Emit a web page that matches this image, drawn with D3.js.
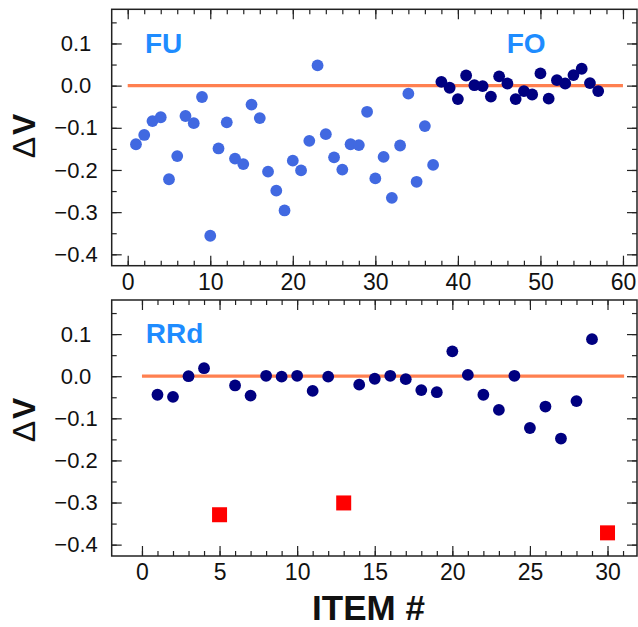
<!DOCTYPE html>
<html>
<head>
<meta charset="utf-8">
<script src="https://cdn.jsdelivr.net/npm/d3@7"></script>
<style>
  body { margin: 0; background: #fff; }
  svg { display: block; font-family: "Liberation Sans", Arial, sans-serif; }
</style>
</head>
<body>
<svg id="chart"></svg>
<script>
// FU / FO panel (top), item numbers and delta V
const fuItems = [1,2,3,4,5,6,7,8,9,10,11,12,13,14,15,16,17,18,19,20,21,22,23,24,25,26,27,28,29,30,31,32,33,34,35,36,37];
const fuValues = [-0.139,-0.117,-0.084,-0.075,-0.222,-0.167,-0.072,-0.089,-0.027,-0.356,-0.149,-0.087,-0.173,-0.186,-0.045,-0.077,-0.204,-0.249,-0.296,-0.178,-0.201,-0.131,0.048,-0.115,-0.170,-0.199,-0.139,-0.141,-0.062,-0.220,-0.169,-0.266,-0.142,-0.019,-0.228,-0.096,-0.188];
const foItems = [38,39,40,41,42,43,44,45,46,47,48,49,50,51,52,53,54,55,56,57];
const foValues = [0.009,-0.005,-0.032,0.024,0.001,-0.001,-0.026,0.022,0.005,-0.032,-0.013,-0.021,0.029,-0.031,0.013,0.005,0.025,0.040,0.006,-0.013];

// RRd panel (bottom)
const rrdItems = [1,2,3,4,6,7,8,9,10,11,12,14,15,16,17,18,19,20,21,22,23,24,25,26,27,28,29];
const rrdValues = [-0.044,-0.049,0.000,0.019,-0.022,-0.046,0.001,-0.001,0.001,-0.035,-0.001,-0.020,-0.006,0.001,-0.007,-0.033,-0.038,0.059,0.003,-0.044,-0.080,0.001,-0.123,-0.072,-0.148,-0.059,0.088];
const rrdSquareItems = [5,13,30];
const rrdSquareValues = [-0.329,-0.301,-0.372];

const yTicks = [0.1,0.0,-0.1,-0.2,-0.3,-0.4];
const topXTicks = [0,10,20,30,40,50,60];
const bottomXTicks = [0,5,10,15,20,25,30];

const width = 638, height = 627;
const left = 111.7, right = 637;

const svg = d3.select("#chart")
  .attr("width", width)
  .attr("height", height)
  .attr("viewBox", [0, 0, width, height]);

function range(a, b, step) {
  const out = [];
  for (let v = a; v <= b + 1e-9; v += step) out.push(+v.toFixed(4));
  return out;
}

function drawPanel(opt) {
  const x = d3.scaleLinear().domain(opt.xDomain).range([left, right]);
  const y = d3.scaleLinear().domain([-0.427, 0.181]).range([opt.bottom, opt.top]);
  const g = svg.append("g");

  // minor + major ticks on all four sides, pointing inward
  const sides = [
    [d3.axisBottom, opt.bottom, x, true],
    [d3.axisTop, opt.top, x, true],
    [d3.axisLeft, left, y, false],
    [d3.axisRight, right, y, false]
  ];
  sides.forEach(([axisFn, pos, sc, horiz]) => {
    const major = horiz ? opt.xMajor : yTicks;
    const minor = horiz ? opt.xMinor : range(-0.4, 0.15, 0.05);
    const tr = horiz ? `translate(0,${pos})` : `translate(${pos},0)`;
    [[minor, 5], [major, 10]].forEach(([vals, len]) => {
      const a = g.append("g")
        .attr("transform", tr)
        .call(axisFn(sc).tickValues(vals).tickSize(-len).tickFormat(""));
      a.select(".domain").remove();
      a.selectAll("line").attr("stroke", "#222").attr("stroke-width", 1.2);
    });
  });

  // tick labels
  const xl = g.append("g")
    .attr("transform", `translate(0,${opt.bottom})`)
    .call(d3.axisBottom(x).tickValues(opt.xMajor).tickSize(0).tickPadding(8).tickFormat(d3.format("d")));
  xl.select(".domain").remove();
  xl.selectAll("text").attr("font-size", 23).attr("fill", "#111").attr("font-family", null);

  const yl = g.append("g")
    .attr("transform", `translate(${left},0)`)
    .call(d3.axisLeft(y).tickValues(yTicks).tickSize(0).tickFormat(d3.format(".1f")));
  yl.select(".domain").remove();
  yl.selectAll("text")
    .attr("font-size", 22).attr("fill", "#111").attr("font-family", null)
    .attr("text-anchor", "middle").attr("x", 76 - left);

  // frame
  g.append("rect")
    .attr("x", left).attr("y", opt.top)
    .attr("width", right - left).attr("height", opt.bottom - opt.top)
    .attr("fill", "none").attr("stroke", "#222").attr("stroke-width", 1.5);

  // zero line
  g.append("line")
    .attr("x1", x(0)).attr("x2", x(opt.lineEnd))
    .attr("y1", y(0)).attr("y2", y(0))
    .attr("stroke", "#ff8050").attr("stroke-width", 3.2);

  // y title: thin delta, bold V
  const t = g.append("text")
    .attr("transform", `translate(35,${opt.titleY}) rotate(-90)`)
    .attr("text-anchor", "middle")
    .attr("font-size", 32)
    .attr("fill", "#111");
  t.append("tspan").attr("font-weight", "normal").text("Δ");
  t.append("tspan").attr("font-weight", "bold").attr("dx", 2).text("V");

  return { g, x, y };
}

// top panel
const topPanel = drawPanel({
  top: 9.3, bottom: 265.7,
  xDomain: [-1.94, 61.7],
  xMajor: topXTicks,
  xMinor: range(0, 60, 2),
  lineEnd: 60,
  titleY: 136
});

topPanel.g.selectAll(".fu")
  .data(fuItems)
  .join("circle")
  .attr("cx", d => topPanel.x(d))
  .attr("cy", (d, i) => topPanel.y(fuValues[i]))
  .attr("r", 5.9)
  .attr("fill", "#4169e1");

topPanel.g.selectAll(".fo")
  .data(foItems)
  .join("circle")
  .attr("cx", d => topPanel.x(d))
  .attr("cy", (d, i) => topPanel.y(foValues[i]))
  .attr("r", 5.9)
  .attr("fill", "#000080");

topPanel.g.append("text")
  .attr("x", 145).attr("y", 53.3)
  .attr("font-size", 28).attr("font-weight", "bold")
  .attr("fill", "#1e8cff").text("FU");

topPanel.g.append("text")
  .attr("x", 506.7).attr("y", 53.3)
  .attr("font-size", 28).attr("font-weight", "bold")
  .attr("fill", "#1e8cff").text("FO");

// bottom panel
const botPanel = drawPanel({
  top: 300, bottom: 556,
  xDomain: [-1.95, 31.9],
  xMajor: bottomXTicks,
  xMinor: range(0, 31, 1),
  lineEnd: 31.07,
  titleY: 420
});

botPanel.g.selectAll(".rrd")
  .data(rrdItems)
  .join("circle")
  .attr("cx", d => botPanel.x(d))
  .attr("cy", (d, i) => botPanel.y(rrdValues[i]))
  .attr("r", 5.9)
  .attr("fill", "#000080");

const sq = 15;
botPanel.g.selectAll(".sq")
  .data(rrdSquareItems)
  .join("rect")
  .attr("x", d => botPanel.x(d) - sq / 2)
  .attr("y", (d, i) => botPanel.y(rrdSquareValues[i]) - sq / 2)
  .attr("width", sq).attr("height", sq)
  .attr("fill", "#ff0000");

botPanel.g.append("text")
  .attr("x", 145.7).attr("y", 342.7)
  .attr("font-size", 28).attr("font-weight", "bold")
  .attr("fill", "#1e8cff").text("RRd");

// x title
svg.append("text")
  .attr("x", 368.5).attr("y", 620)
  .attr("text-anchor", "middle")
  .attr("font-size", 35)
  .attr("font-weight", "bold")
  .attr("fill", "#111")
  .text("ITEM #");
</script>
</body>
</html>
